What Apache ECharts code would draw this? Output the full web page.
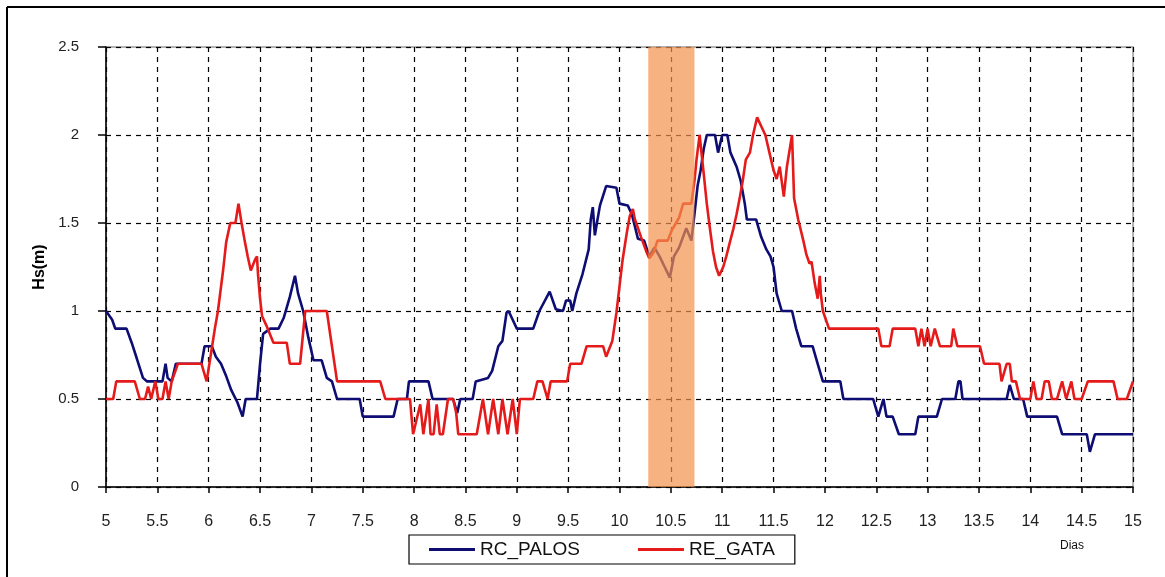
<!DOCTYPE html>
<html>
<head>
<meta charset="utf-8">
<script src="https://cdn.jsdelivr.net/npm/echarts@6/dist/echarts.min.js"></script>
<style>
html,body{margin:0;padding:0;background:#fff;}
#chart{width:1165px;height:577px;}
</style>
</head>
<body>
<div id="chart"></div>
<script>
// Day / Hs(m) pairs
const rcPalos = [
[5.00,1.00],[5.06,0.95],[5.09,0.90],[5.20,0.90],[5.25,0.82],[5.30,0.73],[5.36,0.62],[5.40,0.60],
[5.55,0.60],[5.58,0.70],[5.60,0.62],[5.64,0.60],[5.68,0.70],[5.93,0.70],[5.96,0.80],[6.03,0.80],
[6.07,0.74],[6.12,0.70],[6.17,0.63],[6.22,0.55],[6.28,0.48],[6.33,0.40],[6.36,0.50],[6.47,0.50],
[6.50,0.70],[6.53,0.87],[6.60,0.90],[6.68,0.90],[6.73,0.96],[6.79,1.08],[6.84,1.20],[6.87,1.10],
[6.92,1.00],[6.97,0.85],[7.02,0.72],[7.10,0.72],[7.15,0.62],[7.20,0.60],[7.25,0.50],[7.47,0.50],
[7.50,0.40],[7.80,0.40],[7.84,0.50],[7.93,0.50],[7.95,0.60],[8.14,0.60],[8.18,0.50],[8.38,0.50],
[8.42,0.42],[8.45,0.50],[8.57,0.50],[8.60,0.60],[8.72,0.62],[8.76,0.66],[8.82,0.80],[8.86,0.83],
[8.90,0.99],[8.92,1.00],[8.96,0.95],[9.00,0.90],[9.16,0.90],[9.22,1.00],[9.32,1.11],[9.38,1.01],
[9.45,1.00],[9.48,1.06],[9.52,1.06],[9.54,1.00],[9.58,1.10],[9.64,1.21],[9.70,1.35],[9.72,1.52],
[9.74,1.59],[9.76,1.43],[9.78,1.50],[9.81,1.60],[9.87,1.71],[9.97,1.70],[10.00,1.61],[10.08,1.60],
[10.12,1.55],[10.15,1.48],[10.18,1.41],[10.24,1.40],[10.29,1.31],[10.34,1.36],[10.39,1.31],[10.44,1.25],
[10.49,1.19],[10.53,1.31],[10.58,1.36],[10.65,1.47],[10.70,1.40],[10.73,1.55],[10.76,1.71],[10.79,1.80],
[10.82,1.92],[10.85,2.00],[10.93,2.00],[10.96,1.90],[11.00,2.00],[11.05,2.00],[11.08,1.90],[11.11,1.86],
[11.14,1.82],[11.18,1.74],[11.22,1.61],[11.24,1.52],[11.33,1.52],[11.38,1.42],[11.43,1.35],[11.47,1.31],
[11.50,1.25],[11.53,1.10],[11.58,1.00],[11.68,1.00],[11.72,0.90],[11.77,0.80],[11.88,0.80],[11.93,0.70],
[11.98,0.60],[12.15,0.60],[12.18,0.50],[12.47,0.50],[12.52,0.40],[12.57,0.50],[12.60,0.40],[12.66,0.40],
[12.72,0.30],[12.88,0.30],[12.91,0.40],[13.09,0.40],[13.14,0.50],[13.27,0.50],[13.30,0.60],[13.32,0.60],
[13.34,0.50],[13.77,0.50],[13.80,0.58],[13.84,0.50],[13.93,0.50],[13.97,0.40],[14.26,0.40],[14.31,0.30],
[14.55,0.30],[14.58,0.20],[14.63,0.30],[15.00,0.30]
];
const reGata = [
[5.00,0.50],[5.07,0.50],[5.10,0.60],[5.28,0.60],[5.33,0.50],[5.38,0.50],[5.41,0.57],[5.44,0.50],
[5.48,0.60],[5.51,0.50],[5.55,0.50],[5.58,0.60],[5.61,0.50],[5.64,0.60],[5.70,0.70],[5.93,0.70],
[5.98,0.60],[6.02,0.75],[6.06,0.90],[6.09,1.00],[6.14,1.23],[6.17,1.39],[6.21,1.50],[6.26,1.50],
[6.29,1.61],[6.32,1.50],[6.35,1.40],[6.38,1.31],[6.41,1.23],[6.45,1.29],[6.47,1.31],[6.48,1.21],
[6.50,1.07],[6.52,0.97],[6.56,0.92],[6.63,0.82],[6.76,0.82],[6.79,0.70],[6.89,0.70],[6.94,1.00],
[7.15,1.00],[7.20,0.80],[7.25,0.60],[7.67,0.60],[7.72,0.50],[7.96,0.50],[7.99,0.30],[8.06,0.47],
[8.09,0.30],[8.14,0.50],[8.16,0.30],[8.19,0.30],[8.22,0.47],[8.25,0.30],[8.28,0.30],[8.33,0.50],
[8.38,0.50],[8.41,0.42],[8.43,0.30],[8.61,0.30],[8.67,0.50],[8.72,0.30],[8.77,0.50],[8.82,0.30],
[8.86,0.50],[8.91,0.30],[8.96,0.50],[9.00,0.30],[9.03,0.50],[9.16,0.50],[9.20,0.60],[9.25,0.60],
[9.30,0.50],[9.33,0.60],[9.49,0.60],[9.52,0.70],[9.63,0.70],[9.68,0.80],[9.84,0.80],[9.87,0.74],
[9.93,0.83],[9.97,0.99],[10.00,1.14],[10.03,1.29],[10.07,1.44],[10.10,1.54],[10.13,1.58],[10.15,1.52],
[10.18,1.47],[10.21,1.42],[10.26,1.34],[10.29,1.30],[10.33,1.33],[10.37,1.40],[10.47,1.40],[10.51,1.46],
[10.55,1.50],[10.58,1.53],[10.62,1.61],[10.70,1.61],[10.73,1.74],[10.75,1.86],[10.78,2.00],[10.82,1.78],
[10.85,1.61],[10.88,1.47],[10.91,1.34],[10.94,1.25],[10.97,1.20],[11.01,1.25],[11.04,1.31],[11.07,1.38],
[11.11,1.47],[11.14,1.55],[11.17,1.64],[11.20,1.74],[11.23,1.86],[11.27,1.90],[11.30,2.00],[11.34,2.10],
[11.38,2.05],[11.42,2.00],[11.46,1.90],[11.50,1.80],[11.53,1.75],[11.56,1.82],[11.60,1.65],[11.63,1.82],
[11.68,2.00],[11.70,1.64],[11.74,1.52],[11.79,1.40],[11.82,1.32],[11.85,1.27],[11.87,1.28],[11.90,1.16],
[11.93,1.07],[11.95,1.20],[11.96,1.10],[11.98,1.00],[12.01,0.95],[12.04,0.90],[12.52,0.90],[12.55,0.80],
[12.63,0.80],[12.66,0.90],[12.88,0.90],[12.91,0.80],[12.94,0.90],[12.97,0.80],[13.00,0.90],[13.03,0.80],
[13.07,0.90],[13.12,0.80],[13.23,0.80],[13.25,0.90],[13.29,0.80],[13.51,0.80],[13.55,0.70],[13.70,0.70],
[13.72,0.60],[13.77,0.70],[13.80,0.70],[13.82,0.60],[13.86,0.60],[13.90,0.50],[14.00,0.50],[14.03,0.60],
[14.06,0.50],[14.11,0.50],[14.14,0.60],[14.18,0.60],[14.21,0.50],[14.26,0.50],[14.31,0.60],[14.35,0.50],
[14.40,0.60],[14.43,0.50],[14.50,0.50],[14.56,0.60],[14.81,0.60],[14.85,0.50],[14.94,0.50],[15.00,0.60]
];
const seriesNames = ['RC_PALOS', 'RE_GATA'];
const shadedBand = [10.28, 10.73];
const xRange = [5, 15, 0.5];
const yRange = [0, 2.5, 0.5];

const FONT = '"Liberation Sans", Arial, sans-serif';
const chart = echarts.init(document.getElementById('chart'), null, {renderer: 'canvas'});
const dashed = {show: true, lineStyle: {color: '#000', type: [5, 5], width: 1.2}};

chart.setOption({
  animation: false,
  backgroundColor: '#fff',
  grid: {left: 106, right: 32, top: 47, bottom: 90, show: true, borderColor: '#9a9a9a', borderWidth: 1.5, backgroundColor: 'transparent'},
  xAxis: {
    type: 'value', min: xRange[0], max: xRange[1], interval: xRange[2],
    axisLine: {show: true, onZero: false, lineStyle: {color: '#000', width: 1.5}},
    axisTick: {show: true, length: 6, lineStyle: {color: '#000', width: 1.5}},
    axisLabel: {color: '#222', fontSize: 16, fontFamily: FONT, margin: 27},
    splitLine: dashed
  },
  yAxis: {
    type: 'value', min: yRange[0], max: yRange[1], interval: yRange[2],
    name: 'Hs(m)', nameLocation: 'middle', nameGap: 56, nameRotate: 90,
    nameTextStyle: {color: '#000', fontSize: 16, fontWeight: 'bold', fontFamily: FONT},
    axisLine: {show: true, lineStyle: {color: '#000', width: 1.5}},
    axisTick: {show: true, length: 8, lineStyle: {color: '#000', width: 1.5}},
    axisLabel: {color: '#222', fontSize: 15, fontFamily: FONT, margin: 27},
    splitLine: dashed
  },
  legend: {
    data: seriesNames,
    left: 409, top: 535,
    padding: [5, 20, 5, 20],
    icon: 'rect',
    itemGap: 58, itemWidth: 46, itemHeight: 3,
    borderColor: '#000', borderWidth: 1.2,
    textStyle: {color: '#111', fontSize: 19, fontFamily: FONT}
  },
  series: [
    {
      name: seriesNames[0], type: 'line', data: rcPalos, symbol: 'none', z: 2,
      lineStyle: {color: '#0d0d73', width: 2.6}, itemStyle: {color: '#0d0d73'}
    },
    {
      name: seriesNames[1], type: 'line', data: reGata, symbol: 'none', z: 3,
      lineStyle: {color: '#e51b1b', width: 2.6}, itemStyle: {color: '#e51b1b'}
    },
    {
      name: 'band', type: 'custom', z: 10, silent: true,
      data: [shadedBand],
      renderItem: function (params, api) {
        const p0 = api.coord([api.value(0), yRange[1]]);
        const p1 = api.coord([api.value(1), yRange[0]]);
        return {
          type: 'rect',
          shape: {x: p0[0], y: p0[1], width: p1[0] - p0[0], height: p1[1] - p0[1]},
          style: {fill: 'rgba(243,145,75,0.7)'}
        };
      },
      encode: {x: [0, 1]}
    }
  ],
  graphic: [
    {type: 'line', shape: {x1: 7, y1: 7, x2: 1165, y2: 7}, style: {stroke: '#000', lineWidth: 2}},
    {type: 'line', shape: {x1: 7, y1: 7, x2: 7, y2: 577}, style: {stroke: '#000', lineWidth: 2}},
    {type: 'text', left: 1060, top: 540, style: {text: 'Dias', fill: '#111', font: '12px ' + FONT}}
  ]
});
</script>
</body>
</html>
